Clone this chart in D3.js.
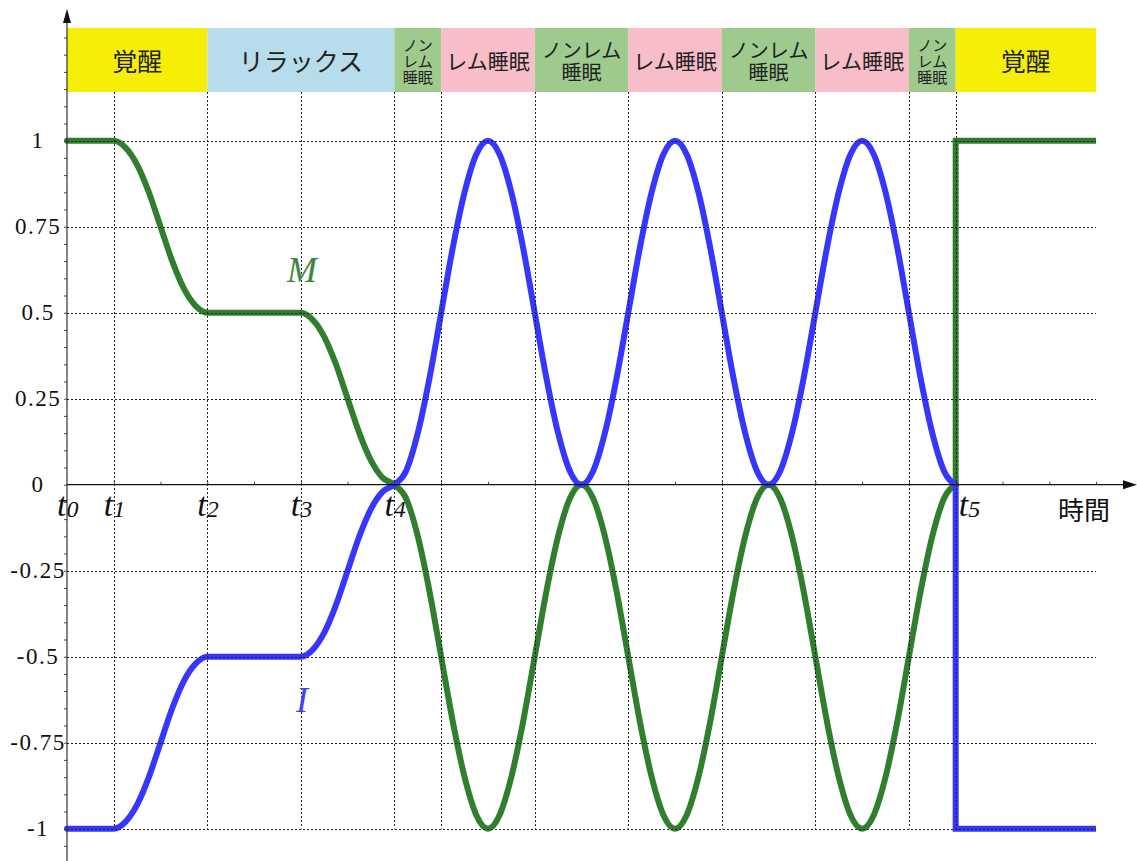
<!DOCTYPE html>
<html><head><meta charset="utf-8">
<script src="https://cdn.jsdelivr.net/npm/d3@7"></script>
<style>
body{margin:0;background:#fff;}
svg{display:block;}
</style></head>
<body>
<svg id="chart" width="1137" height="861"></svg>
<script>
// ---- data ----
const times = [0,0.25,0.5,0.75,1,1.25,1.5,1.75,2,2.25,2.5,2.75,3,3.25,3.5,3.75,4,4.25,4.5,4.75,5,5.25,5.5,5.75,6,6.25,6.5,6.75,7,
  7.25,7.5,7.75,8,8.25,8.5,8.75,9,9.25,9.5,9.75,10,10.25,10.5,10.75,11,
  11.25,11.5,11.75,12,12.25,12.5,12.75,13,13.25,13.5,13.75,14,14.25,14.5,14.75,15,
  15.25,15.5,15.75,16,16.25,16.5,16.75,17,17.25,17.5,17.75,18,18.25,18.5,18.75,19];
const mValues = [1,1,1,1,1,0.98,0.93,0.85,0.75,0.65,0.57,0.52,0.5,0.5,0.5,0.5,0.5,0.5,0.5,0.5,0.5,0.48,0.43,0.35,0.25,0.15,0.07,0.02,0,
  -0.04,-0.15,-0.31,-0.5,-0.69,-0.85,-0.96,-1,-0.96,-0.85,-0.69,-0.5,-0.31,-0.15,-0.04,0,
  -0.04,-0.15,-0.31,-0.5,-0.69,-0.85,-0.96,-1,-0.96,-0.85,-0.69,-0.5,-0.31,-0.15,-0.04,0,
  -0.04,-0.15,-0.31,-0.5,-0.69,-0.85,-0.96,-1,-0.96,-0.85,-0.69,-0.5,-0.31,-0.15,-0.04,0];
const iValues = [-1,-1,-1,-1,-1,-0.98,-0.93,-0.85,-0.75,-0.65,-0.57,-0.52,-0.5,-0.5,-0.5,-0.5,-0.5,-0.5,-0.5,-0.5,-0.5,-0.48,-0.43,-0.35,-0.25,-0.15,-0.07,-0.02,0,
  0.04,0.15,0.31,0.5,0.69,0.85,0.96,1,0.96,0.85,0.69,0.5,0.31,0.15,0.04,0,
  0.04,0.15,0.31,0.5,0.69,0.85,0.96,1,0.96,0.85,0.69,0.5,0.31,0.15,0.04,0,
  0.04,0.15,0.31,0.5,0.69,0.85,0.96,1,0.96,0.85,0.69,0.5,0.31,0.15,0.04,0];
// after waking (jump at t5)
const wakeTimes = [19,19,22];
const wakeM = [0,1,1];
const wakeI = [0,-1,-1];

const yTickValues = [1,0.75,0.5,0.25,0,-0.25,-0.5,-0.75,-1];
const yTickLabels = ["1","0.75","0.5","0.25","0","-0.25","-0.5","-0.75","-1"];
const hGridValues = [1,0.75,0.5,0.25,-0.25,-0.5,-0.75,-1];
const vGridTimes = [1,3,5,7,8,10,12,14,16,18,19];
const tLabelTimes = [0,1,3,5,7,19];
const tLabelSubs = ["0","1","2","3","4","5"];

const bandStarts = [0,3,7,8,10,12,14,16,18,19];
const bandEnds   = [3,7,8,10,12,14,16,18,19,22];
const bandKinds  = ["wake","relax","nrem","rem","nrem","rem","nrem","rem","nrem","wake"];
const bandLines  = [["覚醒"],["リラックス"],["ノン","レム","睡眠"],["レム睡眠"],["ノンレム","睡眠"],["レム睡眠"],["ノンレム","睡眠"],["レム睡眠"],["ノン","レム","睡眠"],["覚醒"]];

// ---- styles ----
const bandColors = {wake:"#f7ee08", relax:"#b7dceb", nrem:"#9ecb8d", rem:"#f7bdc8"};
const greenC = "#2f7f2f", blueC = "#3636ff";

const svg = d3.select("#chart");
const x = d3.scaleLinear().domain([0,22]).range([67,1096]);
const y = d3.scaleLinear().domain([-1,1]).range([828.7,140.7]);

// bands
const bandTop = y(1.3276), bandBot = y(1.1416);
const bands = svg.append("g");
bandStarts.forEach((s,i)=>{
  bands.append("rect").attr("x",x(s)).attr("y",bandTop)
    .attr("width",x(bandEnds[i])-x(s)).attr("height",bandBot-bandTop)
    .attr("fill",bandColors[bandKinds[i]]);
  const lines = bandLines[i];
  const cx = (x(s)+x(bandEnds[i]))/2;
  let fs, centers;
  if(lines.length===3){fs=15; centers=[43.5,59.5,75.5];}
  else if(lines.length===2){fs=20; centers=[48.5,70.5];}
  else if(bandKinds[i]==="rem"){fs=21; centers=[60];}
  else {fs=25; centers=[60];}
  const txt = bands.append("text").attr("text-anchor","middle").attr("dominant-baseline","central")
      .attr("font-family","'Noto Sans CJK JP', sans-serif").attr("font-size",fs)
      .attr("fill","#222");
  lines.forEach((ln,j)=>{
    txt.append("tspan").attr("x",cx).attr("y",centers[j]).attr("dominant-baseline","central").text(ln);
  });
});

// curves
const line = d3.line().x(d=>x(d[0])).y(d=>y(d[1])).curve(d3.curveMonotoneX);
const lin = d3.line().x(d=>x(d[0])).y(d=>y(d[1]));
const curves = svg.append("g").attr("fill","none").attr("stroke-width",6)
  .attr("stroke-linecap","round").attr("stroke-linejoin","round");
curves.append("path").attr("d",line(times.map((t,i)=>[t,mValues[i]]))).attr("stroke",greenC);
curves.append("path").attr("d",lin(wakeTimes.map((t,i)=>[t,wakeM[i]]))).attr("stroke",greenC).attr("stroke-linejoin","miter").attr("stroke-linecap","butt");
curves.append("path").attr("d",line(times.map((t,i)=>[t,iValues[i]]))).attr("stroke",blueC);
curves.append("path").attr("d",lin(wakeTimes.map((t,i)=>[t,wakeI[i]]))).attr("stroke",blueC).attr("stroke-linejoin","miter").attr("stroke-linecap","butt");

// grid (on top)
const grid = svg.append("g").attr("stroke","#222").attr("stroke-width",1).attr("stroke-dasharray","2,2");
hGridValues.forEach(v=>{
  grid.append("line").attr("x1",x(0)).attr("x2",x(22)).attr("y1",Math.round(y(v))+0.5).attr("y2",Math.round(y(v))+0.5);
});
vGridTimes.forEach(t=>{
  grid.append("line").attr("x1",Math.round(x(t))+0.5).attr("x2",Math.round(x(t))+0.5).attr("y1",bandBot).attr("y2",y(-1));
});

// axes
const y0 = y(0);
const axisG = svg.append("g");
const yMinor = d3.axisLeft(y).tickValues(d3.range(-21,27).map(k=>k*0.05)).tickSize(3).tickFormat("");
axisG.append("g").attr("transform",`translate(${x(0)},0)`).call(yMinor)
  .call(g=>g.select(".domain").remove())
  .call(g=>g.selectAll("line").attr("stroke","#444"));
axisG.append("line").attr("x1",x(0)).attr("x2",x(0)).attr("y1",14).attr("y2",861).attr("stroke","#333").attr("stroke-width",1.2);
axisG.append("path").attr("d",`M${x(0)},9 L${x(0)-4},23 L${x(0)+4},23 Z`).attr("fill","#111");
const xMinor = d3.axisTop(x).tickValues(d3.range(1,23)).tickSize(3).tickFormat("");
axisG.append("g").attr("transform",`translate(0,${y0})`).call(xMinor)
  .call(g=>g.select(".domain").remove())
  .call(g=>g.selectAll("line").attr("stroke","#444"));
axisG.append("line").attr("x1",x(0)).attr("x2",1128).attr("y1",y0).attr("y2",y0).attr("stroke","#111").attr("stroke-width",1.2);
axisG.append("path").attr("d",`M1137,${y0} L1123,${y0-4.5} L1123,${y0+4.5} Z`).attr("fill","#111");

// y labels
yTickValues.forEach((v,i)=>{
  svg.append("text").attr("x",38).attr("y",y(v)+7.5).attr("text-anchor","middle")
    .attr("font-family","'Liberation Serif', 'DejaVu Serif', serif").attr("font-size",23)
    .attr("letter-spacing",1.5).attr("fill","#111").text(yTickLabels[i]);
});

// t labels
tLabelTimes.forEach((t,i)=>{
  const off = (i===tLabelTimes.length-1) ? 3 : -10;
  const tx = svg.append("text").attr("x",x(t)+off).attr("y",516)
    .attr("font-family","'Liberation Serif', serif").attr("font-style","italic").attr("fill","#111");
  tx.append("tspan").attr("font-size",34).text("t");
  tx.append("tspan").attr("font-size",24).attr("dy",1).text(tLabelSubs[i]);
});

// time axis label
svg.append("text").attr("x",1084).attr("y",508).attr("text-anchor","middle").attr("dominant-baseline","central")
  .attr("font-family","'Noto Sans CJK JP', sans-serif").attr("font-size",26).attr("fill","#111").text("時間");

// series labels
svg.append("text").attr("x",302).attr("y",282).attr("text-anchor","middle")
  .attr("font-family","'Liberation Serif', serif").attr("font-style","italic").attr("font-size",36)
  .attr("fill","#3d873d").text("M");
svg.append("text").attr("x",302).attr("y",712).attr("text-anchor","middle")
  .attr("font-family","'Liberation Serif', serif").attr("font-style","italic").attr("font-size",36)
  .attr("fill","#4040ff").text("I");
</script>
</body></html>
